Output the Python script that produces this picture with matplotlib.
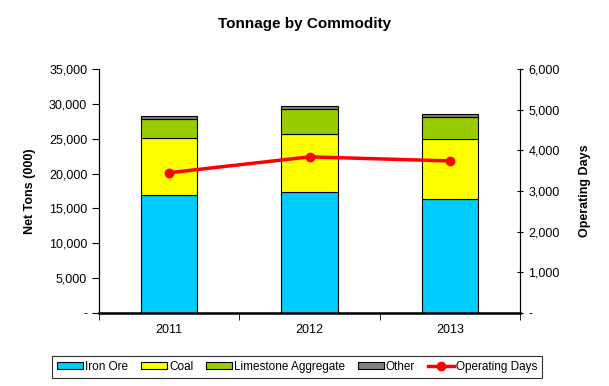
import matplotlib.pyplot as plt
import matplotlib.ticker as mticker
import numpy as np

plt.rcParams['font.family'] = ['Liberation Sans', 'DejaVu Sans']

years = ['2011', '2012', '2013']
iron_ore = [16900, 17300, 16300]
coal = [8150, 8350, 8600]
limestone = [2800, 3600, 3250]
other = [480, 440, 440]
operating_days = [3450, 3840, 3740]


def fmt(v, pos):
    return '-' if v == 0 else '{:,.0f}'.format(v)


fig = plt.figure(figsize=(6.09, 3.86), dpi=100)
ax = fig.add_axes([0.1626, 0.1891, 0.6913, 0.6321])
x = np.arange(len(years))
w = 0.4

bottom = np.zeros(len(years))
series = [(iron_ore, '#00CCFF', 'Iron Ore'),
          (coal, '#FFFF00', 'Coal'),
          (limestone, '#99CC00', 'Limestone Aggregate'),
          (other, '#808080', 'Other')]
handles = []
for vals, col, lab in series:
    b = ax.bar(x, vals, w, bottom=bottom, color=col, edgecolor='black',
               linewidth=0.8, label=lab, zorder=2)
    handles.append(b)
    bottom += np.array(vals)

ax.set_xlim(-0.5, len(years) - 0.5)
ax.set_ylim(0, 35000)
ax.yaxis.set_major_locator(mticker.MultipleLocator(5000))
ax.yaxis.set_major_formatter(mticker.FuncFormatter(fmt))
ax.set_xticks(x)
ax.set_xticklabels(years)
ax.set_xticks(np.arange(-0.5, len(years)), minor=True)
ax.tick_params(axis='x', which='major', length=0, pad=8, labelsize=9)
ax.tick_params(axis='x', which='minor', length=5, direction='out')
ax.tick_params(axis='y', length=5, direction='out', labelsize=9)
ax.spines['top'].set_visible(False)
ax.spines['bottom'].set_linewidth(1.8)
ax.set_ylabel('Net Tons (000)', fontweight='bold', fontsize=9, labelpad=9)

ax2 = ax.twinx()
ln, = ax2.plot(x, operating_days, color='#FF0000', lw=2.5, marker='o',
               markersize=6, label='Operating Days', zorder=3)
ax2.set_ylim(0, 6000)
ax2.yaxis.set_major_locator(mticker.MultipleLocator(1000))
ax2.yaxis.set_major_formatter(mticker.FuncFormatter(fmt))
ax2.tick_params(axis='y', length=5, direction='inout', labelsize=9)
ax2.spines['top'].set_visible(False)
ax2.set_ylabel('Operating Days', fontweight='bold', fontsize=9, labelpad=14)

fig.suptitle('Tonnage by Commodity', fontweight='bold', fontsize=11, y=0.957)

leg = fig.legend(handles + [ln], [h.get_label() for h in handles] + ['Operating Days'],
                 loc='center', bbox_to_anchor=(0.488, 0.049), ncol=5,
                 fontsize=8.5, frameon=True, fancybox=False, edgecolor='black',
                 handlelength=2.2, handleheight=0.55, handletextpad=0.15,
                 columnspacing=1.1, borderpad=0.45)
leg.get_frame().set_linewidth(0.8)

fig.savefig('out.png', dpi=100)
